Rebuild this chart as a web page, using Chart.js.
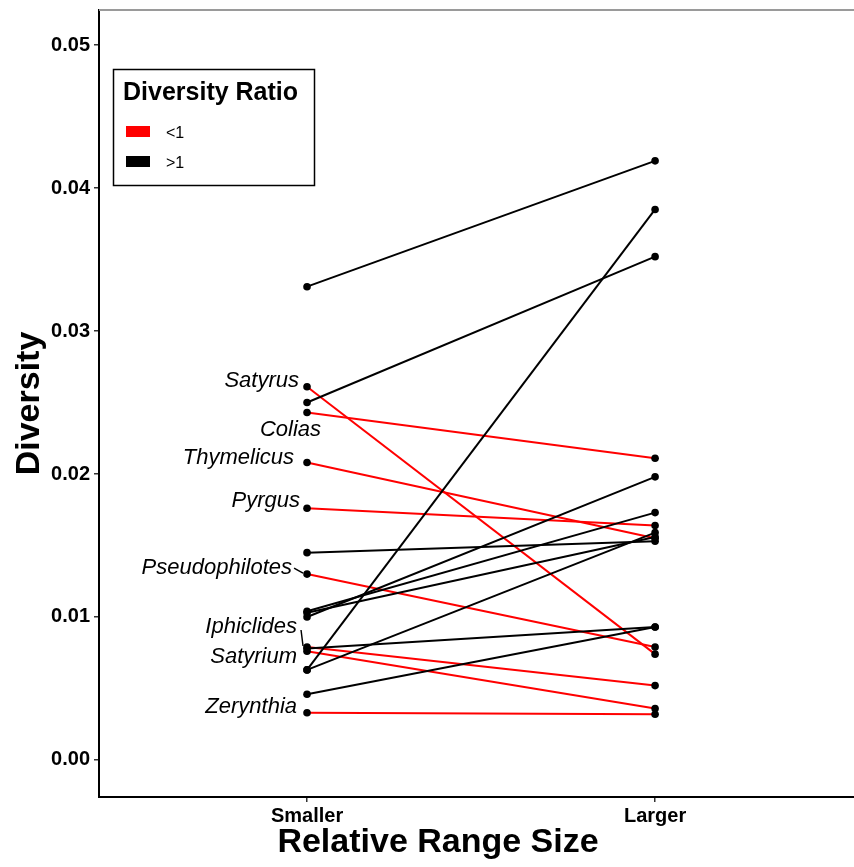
<!DOCTYPE html>
<html>
<head>
<meta charset="utf-8">
<script src="https://cdn.jsdelivr.net/npm/chart.js@4.4.0/dist/chart.umd.min.js"></script>
<style>
  body { margin: 0; background: #fff; }
  canvas { display: block; }
</style>
</head>
<body>
<canvas id="grafico" width="854" height="867"></canvas>
<script>
// categorias y ticks
const xLabels = ["Smaller", "Larger"];
const yTicks = [0, 0.01, 0.02, 0.03, 0.04, 0.05];

// ratio < 1 (rojo), con nombre del genero
const ltGenus = ["Satyrus", "Colias", "Thymelicus", "Pyrgus", "Pseudophilotes", "Iphiclides", "Satyrium", "Zerynthia"];
const ltSmaller = [0.0261, 0.0243, 0.0208, 0.0176, 0.0130, 0.0079, 0.0076, 0.0033];
const ltLarger = [0.0074, 0.0211, 0.0155, 0.0164, 0.0079, 0.0052, 0.0036, 0.0032];

// ratio > 1 (negro)
const gtSmaller = [0.0331, 0.0250, 0.0145, 0.0104, 0.0100, 0.0103, 0.0063, 0.0063, 0.0078, 0.0046];
const gtLarger = [0.0419, 0.0352, 0.0153, 0.0173, 0.0198, 0.0156, 0.0385, 0.0159, 0.0093, 0.0093];

const legendItems = ["<1", ">1"];
const legendColors = ["#ff0000", "#000000"];

const FONT = "'Liberation Sans', Arial, Helvetica, sans-serif";

// desplazamiento de etiquetas (px) respecto al punto, y si llevan linea guia
const labelNudge = [[-8, 0], [14, 23], [-13, 1], [-7, -1], [-15, 0], [-10, -14], [-10, 12], [-10, 0]];
const leader = { 4: [-13, -6], 5: [-6, -17] };

function segment(a, b, color) {
  return {
    type: "line",
    data: [{ x: 1, y: a }, { x: 2, y: b }],
    borderColor: color,
    borderWidth: 2,
    pointRadius: 0,
    fill: false,
    order: 1,
  };
}

const datasets = [];
gtSmaller.forEach((v, i) => datasets.push(segment(v, gtLarger[i], legendColors[1])));
ltSmaller.forEach((v, i) => datasets.push(segment(v, ltLarger[i], legendColors[0])));

// puntos encima de las lineas
const puntos = [];
[...gtSmaller, ...ltSmaller].forEach((v) => puntos.push({ x: 1, y: v }));
[...gtLarger, ...ltLarger].forEach((v) => puntos.push({ x: 2, y: v }));
datasets.push({
  type: "scatter",
  data: puntos,
  pointRadius: 3.8,
  pointBackgroundColor: "#000",
  pointBorderWidth: 0,
  order: 0,
});

const extras = {
  id: "extras",
  afterDraw(chart) {
    const ctx = chart.ctx;
    const xs = chart.scales.x;
    const ys = chart.scales.y;
    const area = chart.chartArea;
    ctx.save();

    // borde superior gris y eje x hasta el borde
    ctx.strokeStyle = "#9a9a9a";
    ctx.lineWidth = 2;
    ctx.beginPath();
    ctx.moveTo(area.left, area.top);
    ctx.lineTo(854, area.top);
    ctx.stroke();
    ctx.strokeStyle = "#000";
    ctx.beginPath();
    ctx.moveTo(area.right - 1, area.bottom);
    ctx.lineTo(854, area.bottom);
    ctx.stroke();

    // titulos de ejes
    ctx.fillStyle = "#000";
    ctx.font = "bold 34px " + FONT;
    ctx.textAlign = "center";
    ctx.textBaseline = "middle";
    ctx.fillText("Relative Range Size", 438, 843);
    ctx.save();
    ctx.translate(30, (area.top + area.bottom) / 2);
    ctx.rotate(-Math.PI / 2);
    ctx.fillText("Diversity", 0, 0);
    ctx.restore();

    // etiquetas de generos
    ctx.font = "italic 22px " + FONT;
    ctx.textAlign = "right";
    ctx.textBaseline = "alphabetic";
    const px = xs.getPixelForValue(1);
    ltGenus.forEach((g, i) => {
      const py = ys.getPixelForValue(ltSmaller[i]);
      ctx.fillText(g, px + labelNudge[i][0], py + labelNudge[i][1]);
      if (leader[i]) {
        ctx.strokeStyle = "#000";
        ctx.lineWidth = 1.5;
        ctx.beginPath();
        ctx.moveTo(px + leader[i][0], py + leader[i][1]);
        ctx.lineTo(px - 4, py - 1);
        ctx.stroke();
      }
    });

    // leyenda
    ctx.strokeStyle = "#000";
    ctx.lineWidth = 1.5;
    ctx.strokeRect(113.5, 69.5, 201, 116);
    ctx.textAlign = "left";
    ctx.font = "bold 25px " + FONT;
    ctx.fillText("Diversity Ratio", 123, 100);
    ctx.font = "16px " + FONT;
    legendItems.forEach((t, i) => {
      ctx.fillStyle = legendColors[i];
      ctx.fillRect(126, 126 + i * 30, 24, 11);
      ctx.fillStyle = "#000";
      ctx.fillText(t, 166, 138 + i * 30);
    });

    ctx.restore();
  },
};

new Chart(document.getElementById("grafico"), {
  type: "line",
  data: { datasets },
  options: {
    responsive: false,
    animation: false,
    layout: { padding: { top: 10, right: 0, left: 0, bottom: 0 } },
    plugins: { legend: { display: false }, tooltip: { enabled: false } },
    scales: {
      x: {
        type: "linear",
        min: 0.4023,
        max: 2.56,
        afterBuildTicks: (s) => { s.ticks = xLabels.map((_, i) => ({ value: i + 1 })); },
        afterFit: (s) => { s.height = 70; s.paddingLeft = 0; s.paddingRight = 0; },
        ticks: {
          callback: (v) => xLabels[v - 1],
          color: "#000",
          font: { family: FONT, size: 20, weight: "bold" },
          padding: 2,
          maxRotation: 0,
        },
        grid: { drawOnChartArea: false, drawTicks: true, tickLength: 5, color: "#333", lineWidth: 1.5 },
        border: { display: true, color: "#000", width: 2 },
      },
      y: {
        min: -0.00259,
        max: 0.05245,
        afterBuildTicks: (s) => { s.ticks = yTicks.map((v) => ({ value: v })); },
        afterFit: (s) => { s.width = 99; s.paddingTop = 0; s.paddingBottom = 0; },
        ticks: {
          callback: (v) => v.toFixed(2),
          color: "#000",
          font: { family: FONT, size: 20, weight: "bold" },
          padding: 4,
        },
        grid: { drawOnChartArea: false, drawTicks: true, tickLength: 5, color: "#333", lineWidth: 1.5 },
        border: { display: true, color: "#000", width: 2 },
      },
    },
  },
  plugins: [extras],
});
</script>
</body>
</html>
